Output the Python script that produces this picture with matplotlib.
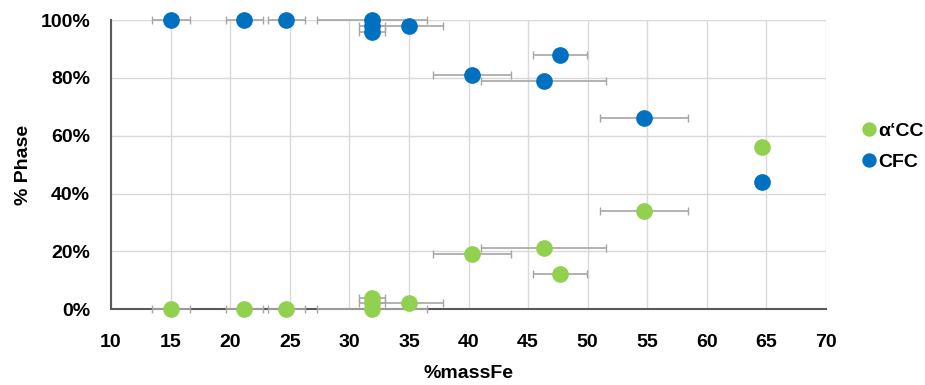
import matplotlib.pyplot as plt
from matplotlib.ticker import PercentFormatter

# %massFe of each sample and its spread
mass_fe = [15.0, 21.2, 24.7, 31.9, 31.9, 31.9, 35.0, 40.3, 46.3, 47.7, 54.7, 64.6]
mass_fe_err = [1.6, 1.55, 1.55, 4.6, 1.1, 1.1, 2.85, 3.3, 5.25, 2.25, 3.7, 0.5]
# phase fractions (%)
acc = [0, 0, 0, 0, 4, 2, 2, 19, 21, 12, 34, 56]
cfc = [100, 100, 100, 100, 96, 98, 98, 81, 79, 88, 66, 44]

plt.rcParams['font.family'] = ['Liberation Sans', 'DejaVu Sans']

fig = plt.figure(figsize=(9.25, 3.85), dpi=100)
ax = fig.add_axes([0.12, 0.197, 0.773, 0.751])

err_kw = dict(ecolor='#a6a6a6', elinewidth=1.2, capsize=3, capthick=1.0, ls='none')
for ys, col, lab in [(acc, '#92D050', 'α‘CC'), (cfc, '#0070C0', 'CFC')]:
    cont = ax.errorbar(mass_fe, ys, xerr=mass_fe_err, fmt='o', color=col, ms=11,
                       mec=col, label=lab, zorder=3, **err_kw)
    arts = [cont.lines[0]] + list(cont.lines[1]) + list(cont.lines[2])
    for art in arts:
        art.set_clip_on(False)

ax.set_xlim(10, 70)
ax.set_ylim(0, 100)
ax.set_xticks(range(10, 71, 5))
ax.set_yticks(range(0, 101, 20))
ax.yaxis.set_major_formatter(PercentFormatter(decimals=0))
ax.grid(True, color='#d9d9d9', lw=1)
ax.set_axisbelow(True)
for s in ['top', 'right']:
    ax.spines[s].set_visible(False)
for s in ['left', 'bottom']:
    ax.spines[s].set_color('#595959')
    ax.spines[s].set_linewidth(1.5)
    ax.spines[s].set_zorder(2)
ax.tick_params(length=0, labelsize=14)
ax.tick_params(axis='x', pad=18)
ax.tick_params(axis='y', pad=15)
for lab in ax.get_xticklabels() + ax.get_yticklabels():
    lab.set_fontweight('bold')
ax.set_xlabel('%massFe', fontsize=14, fontweight='bold', labelpad=10)
ax.set_ylabel('% Phase', fontsize=14, fontweight='bold', labelpad=6)

h, l = ax.get_legend_handles_labels()
h = [x[0] for x in h]
fig.legend(h, l, loc='center left', bbox_to_anchor=(0.931, 1 - 146.5 / 385), frameon=False,
           prop={'weight': 'bold', 'size': 14}, handletextpad=0.1, borderpad=0,
           borderaxespad=0, handlelength=0.8, labelspacing=0.7, markerscale=0.85)

fig.savefig('out.png')
